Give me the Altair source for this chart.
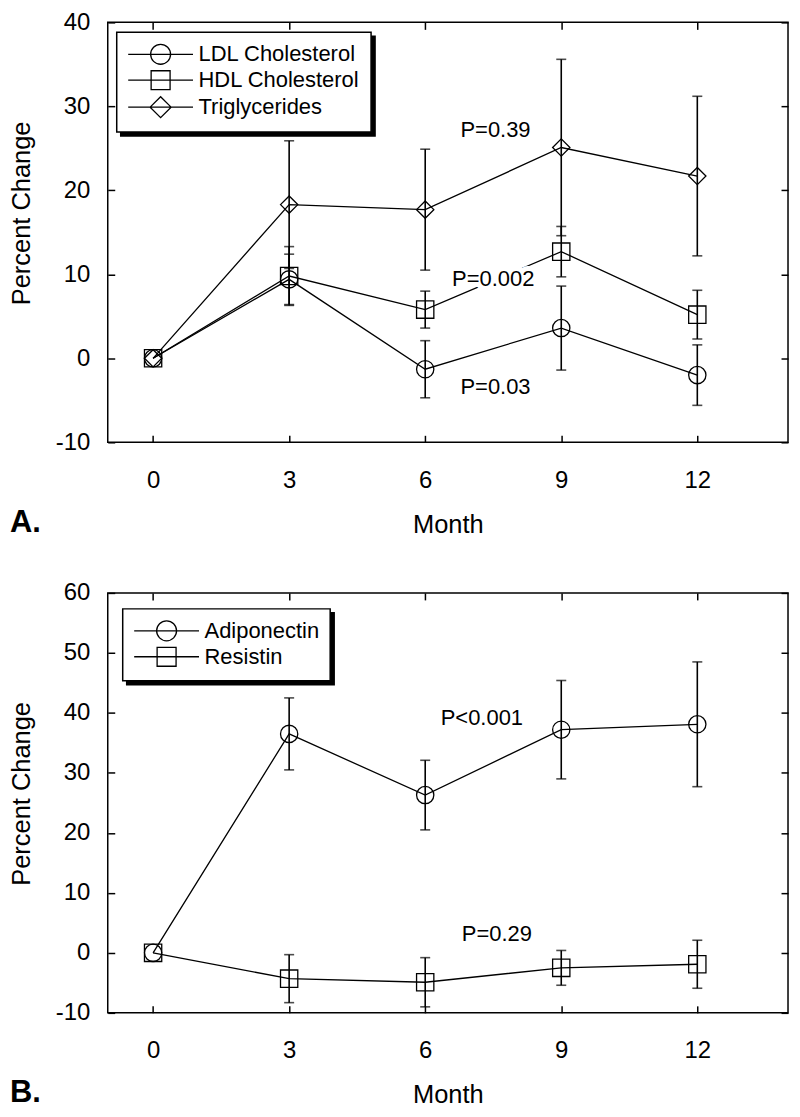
import altair as alt
import pandas as pd

FONT = "Liberation Sans"

months = [0, 3, 6, 9, 12]

# Panel A
a_series = ["LDL Cholesterol", "HDL Cholesterol", "Triglycerides"]
ldl_mean = [0, 9.4, -1.3, 3.6, -2.0]
ldl_err = [0, 3.0, 3.4, 5.0, 3.6]
hdl_mean = [0, 9.8, 5.8, 12.7, 5.2]
hdl_err = [0, 3.5, 2.2, 3.0, 2.9]
tg_mean = [0, 18.3, 17.7, 25.1, 21.7]
tg_err = [0, 7.6, 7.2, 10.5, 9.5]
a_shapes = ["circle", "square", "diamond"]

p_a_text = ["P=0.39", "P=0.002", "P=0.03"]
p_a_month = [7.55, 7.5, 7.55]
p_a_value = [27.2, 9.5, -3.4]

# Panel B
b_series = ["Adiponectin", "Resistin"]
adipo_mean = [0, 36.5, 26.3, 37.2, 38.1]
adipo_err = [0, 6.0, 5.8, 8.2, 10.4]
resis_mean = [0, -4.3, -4.9, -2.5, -1.9]
resis_err = [0, 4.0, 4.1, 2.9, 4.0]
b_shapes = ["circle", "square"]

p_b_text = ["P<0.001", "P=0.29"]
p_b_month = [7.25, 7.58]
p_b_value = [39.1, 3.15]

# legend glyphs: line through marker
LEG_PATHS = {
    "circle": "M-3.25,0H3.25M1,0A1,1 0 1,1 -1,0A1,1 0 1,1 1,0Z",
    "square": "M-3.25,0H3.25M-0.95,-0.95H0.95V0.95H-0.95Z",
    "diamond": "M-3.25,0H3.25M-1.05,0L0,-1.05L1.05,0L0,1.05Z",
}

TICK = 7
LEG_FONT = 22
P_FONT = 22


def long_df(names, means, errs):
    rows = []
    for n, m, e in zip(names, means, errs):
        for mo, v, er in zip(months, m, e):
            rows.append(dict(series=n, month=mo, mean=v, lo=v - er, hi=v + er, err=er))
    return pd.DataFrame(rows)


def legend_def(lx, ly, shadow):
    col = "black"
    return alt.Legend(
        title=None, orient="none", legendX=lx, legendY=ly,
        symbolSize=400, symbolStrokeWidth=1.3, symbolOffset=22,
        symbolFillColor="transparent", symbolStrokeColor=col,
        labelOffset=27, rowPadding=0, padding=11, labelLimit=400,
        labelFont=FONT, labelFontSize=LEG_FONT, labelColor=col,
        strokeColor=col, fillColor=("black" if shadow else "white"),
        zindex=(1 if shadow else 2),
    )


def panel(df, pdf, names, shapes, ydom, yvals, title_y, leg_xy, letter):
    xs = alt.Scale(domain=[-1, 14], nice=False, zero=False)
    ys = alt.Scale(domain=ydom, nice=False, zero=False)
    # ticks drawn inward: axis shifted into the plot by the tick length
    x_axis = alt.Axis(values=months, title="Month", grid=False, domain=False,
                      tickSize=TICK, offset=-TICK, labelPadding=45,
                      labelBaseline="alphabetic",
                      titleY=90 + TICK, titleBaseline="alphabetic")
    y_axis = alt.Axis(values=yvals, title="Percent Change", grid=False, domain=False,
                      tickSize=TICK, offset=-TICK, labelPadding=18,
                      labelExpr="'' + datum.value",
                      titleX=-78 - TICK, titleY=title_y, titleBaseline="alphabetic",
                      titleAlign="center", titleAngle=270)
    x_top = alt.Axis(orient="top", values=months, labels=False, title=None, grid=False,
                     domain=False, tickSize=TICK, offset=-TICK)
    y_right = alt.Axis(orient="right", values=yvals, labels=False, title=None, grid=False,
                       domain=False, tickSize=TICK, offset=-TICK)

    base = alt.Chart(df)
    bars = base.transform_filter("datum.err > 0")
    X = alt.X("month:Q", scale=xs, axis=None)

    line = base.mark_line(color="black", strokeWidth=1.3).encode(
        x=alt.X("month:Q", scale=xs, axis=x_axis),
        y=alt.Y("mean:Q", scale=ys, axis=y_axis),
        detail="series:N",
    )
    rule = bars.mark_rule(color="black", strokeWidth=1.6).encode(
        x=X, y=alt.Y("lo:Q", scale=ys, axis=None), y2="hi:Q",
    )
    cap_lo = bars.mark_tick(color="black", thickness=1.6, size=10, orient="horizontal").encode(
        x=X, y=alt.Y("lo:Q", scale=ys, axis=None),
    )
    cap_hi = bars.mark_tick(color="black", thickness=1.6, size=10, orient="horizontal").encode(
        x=X, y=alt.Y("hi:Q", scale=ys, axis=None),
    )
    pts = base.mark_point(filled=False, size=300, strokeWidth=1.3, color="black", opacity=1).encode(
        x=X, y=alt.Y("mean:Q", scale=ys, axis=None),
        shape=alt.Shape("series:N", scale=alt.Scale(domain=names, range=shapes), legend=None),
    )
    # legend-only layers (no rows drawn): glyph = line through marker, plus drop shadow
    leg_paths = [LEG_PATHS[s] for s in shapes]
    lx, ly = leg_xy
    leg = base.transform_filter("false").mark_point(
        filled=False, size=400, strokeWidth=1.3, color="black", opacity=1
    ).encode(
        x=X, y=alt.Y("mean:Q", scale=ys, axis=None),
        shape=alt.Shape("series:N", scale=alt.Scale(domain=names, range=leg_paths),
                        legend=legend_def(lx, ly, False)),
    )
    shadow = base.transform_filter("false").mark_point(
        filled=False, size=400, strokeWidth=1.3, color="black", opacity=1
    ).encode(
        x=X, y=alt.Y("mean:Q", scale=ys, axis=None),
        shape=alt.Shape("series:N", scale=alt.Scale(domain=names, range=leg_paths),
                        legend=legend_def(lx + 4, ly + 4, True)),
    )
    ptxt = alt.Chart(pdf)
    halo = ptxt.mark_text(font=FONT, fontSize=P_FONT, color="white", stroke="white",
                          strokeWidth=10, strokeJoin="round").encode(
        x=X, y=alt.Y("value:Q", scale=ys, axis=None), text="label:N",
    )
    txt = ptxt.mark_text(font=FONT, fontSize=P_FONT, color="black").encode(
        x=alt.X("month:Q", scale=xs, axis=x_top),
        y=alt.Y("value:Q", scale=ys, axis=y_right),
        text="label:N",
    )
    return alt.layer(line, rule, cap_lo, cap_hi, pts, shadow, leg, halo, txt).resolve_axis(
        x="independent", y="independent"
    ).resolve_scale(shape="independent").properties(
        width=682, height=421,
        title=alt.Title(letter, orient="bottom", anchor="start", frame="bounds",
                        fontSize=31, fontWeight="bold", font=FONT, color="black",
                        offset=-30),
    )


df_a = long_df(a_series, [ldl_mean, hdl_mean, tg_mean], [ldl_err, hdl_err, tg_err])
df_b = long_df(b_series, [adipo_mean, resis_mean], [adipo_err, resis_err])
pdf_a = pd.DataFrame({"label": p_a_text, "month": p_a_month, "value": p_a_value})
pdf_b = pd.DataFrame({"label": p_b_text, "month": p_b_month, "value": p_b_value})

pa = panel(df_a, pdf_a, a_series, a_shapes, [-10, 40], [-10, 0, 10, 20, 30, 40], 191, (9, 10), "A.")
pb = panel(df_b, pdf_b, b_series, b_shapes, [-10, 60], [-10, 0, 10, 20, 30, 40, 50, 60], 201, (15, 16), "B.")

chart = alt.vconcat(pa, pb, spacing=41).properties(
    padding={"left": 1, "top": 0, "right": 2, "bottom": 0}
).configure_view(stroke="black", strokeWidth=1.5).configure_axis(
    labelFont=FONT, titleFont=FONT, labelFontSize=24, titleFontSize=25.5,
    labelColor="black", titleColor="black", tickColor="black", tickWidth=1.5,
    titleFontWeight="normal",
).configure_legend(strokeWidth=1.5)

chart.save("out.html", embed_options={"renderer": "svg", "actions": False})
